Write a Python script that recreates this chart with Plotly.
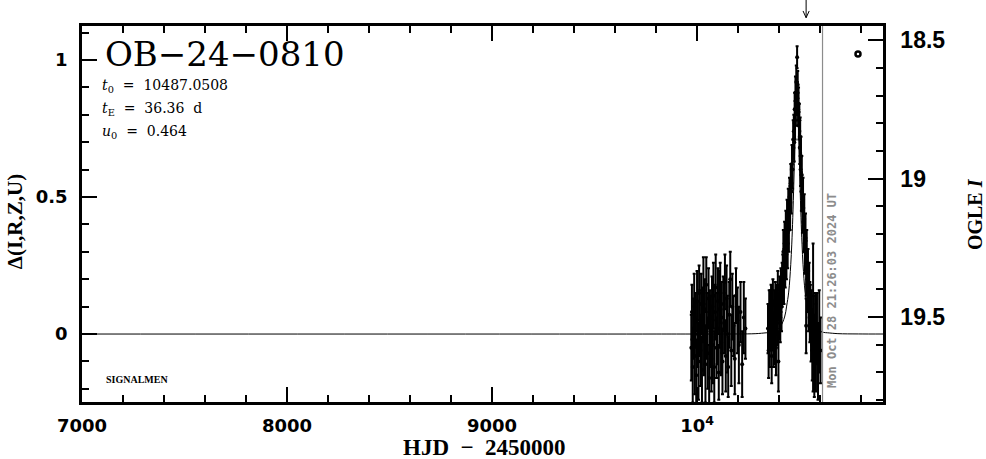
import plotly.graph_objects as go

# ---------------- data (HJD - 2450000, Delta) ----------------
t_2023 = [9972, 9975, 9979, 9982, 9986, 9989, 9993, 9996, 10000, 10003,
          10007, 10010, 10013, 10017, 10020, 10024, 10027, 10031, 10034, 10038,
          10041, 10045, 10048, 10052, 10056, 10059, 10063, 10066, 10070, 10073,
          10077, 10080, 10084, 10088, 10091, 10095, 10098, 10102, 10106, 10109,
          10113, 10117, 10120, 10124, 10128, 10132, 10136, 10140, 10144, 10148,
          10152, 10157, 10162, 10167, 10172, 10178, 10184, 10190, 10197, 10204,
          10212, 10220, 10228, 10236]
d_2023 = [-0.05, 0.08, -0.12, 0.02, 0.10, -0.08, 0.05, -0.15, 0.12, 0.00,
          -0.10, 0.15, 0.04, -0.06, 0.11, -0.13, 0.07, 0.16, -0.02, 0.09,
          -0.11, 0.18, 0.03, -0.07, 0.13, -0.16, 0.06, 0.01, -0.09, 0.10,
          -0.04, 0.14, -0.12, 0.08, 0.17, -0.05, 0.02, 0.12, -0.14, 0.09,
          0.15, -0.03, 0.06, -0.10, 0.11, 0.04, 0.19, -0.08, 0.13, 0.00,
          -0.12, 0.07, 0.20, -0.06, 0.10, 0.03, -0.09, 0.14, 0.05, -0.04,
          0.08, -0.11, 0.06, 0.02]
e_2023 = [0.12, 0.10, 0.13, 0.11, 0.12, 0.14, 0.10, 0.13, 0.11, 0.12,
          0.14, 0.10, 0.12, 0.13, 0.11, 0.12, 0.10, 0.12, 0.13, 0.11,
          0.14, 0.10, 0.12, 0.13, 0.11, 0.12, 0.10, 0.13, 0.12, 0.11,
          0.14, 0.12, 0.13, 0.10, 0.12, 0.11, 0.13, 0.12, 0.10, 0.14,
          0.11, 0.12, 0.13, 0.12, 0.10, 0.11, 0.10, 0.13, 0.12, 0.14,
          0.11, 0.12, 0.10, 0.13, 0.12, 0.11, 0.13, 0.10, 0.12, 0.14,
          0.11, 0.12, 0.13, 0.11]

t_2024_base = [10346, 10349, 10352, 10355, 10358, 10361, 10364, 10367, 10370, 10373,
               10376, 10379, 10382, 10385, 10388, 10391, 10394, 10397, 10400, 10403,
               10406, 10409, 10412, 10415]
d_2024_base = [0.02, -0.06, 0.08, -0.03, 0.05, 0.10, -0.08, 0.03, 0.12, -0.02,
               0.07, 0.00, 0.11, -0.05, 0.09, 0.04, 0.14, -0.10, 0.08, 0.13,
               0.06, 0.16, 0.10, 0.18]
e_2024_base = [0.09, 0.10, 0.08, 0.09, 0.11, 0.08, 0.10, 0.09, 0.08, 0.10,
               0.09, 0.11, 0.08, 0.10, 0.09, 0.08, 0.09, 0.11, 0.10, 0.08,
               0.09, 0.08, 0.09, 0.08]

t_2024_rise = [10418, 10421, 10424, 10427, 10430, 10433, 10436, 10439, 10442, 10445,
               10448, 10451, 10454, 10457, 10460, 10463, 10466, 10469, 10472, 10474,
               10476, 10478, 10480, 10482, 10484, 10486]
d_2024_rise = [0.20, 0.30, 0.21, 0.33, 0.26, 0.37, 0.29, 0.41, 0.33, 0.45,
               0.38, 0.50, 0.46, 0.55, 0.52, 0.62, 0.60, 0.71, 0.74, 0.70,
               0.82, 0.78, 0.88, 0.82, 0.92, 0.86]
e_2024_rise = [0.09, 0.08, 0.10, 0.08, 0.09, 0.08, 0.09, 0.08, 0.09, 0.08,
               0.08, 0.07, 0.08, 0.07, 0.08, 0.07, 0.07, 0.07, 0.06, 0.07,
               0.06, 0.07, 0.06, 0.06, 0.06, 0.06]

t_2024_peak = [10488]
d_2024_peak = [1.01]
e_2024_peak = [0.04]

t_2024_fall = [10489, 10491, 10493, 10495, 10497, 10499, 10501, 10503, 10505, 10507,
               10509, 10511, 10514, 10517, 10520, 10523, 10526, 10529, 10532, 10535,
               10538, 10541, 10544, 10547, 10550]
d_2024_fall = [0.86, 0.91, 0.82, 0.84, 0.76, 0.78, 0.68, 0.72, 0.60, 0.65,
               0.52, 0.58, 0.45, 0.49, 0.38, 0.42, 0.30, 0.35, 0.24, 0.29,
               0.18, 0.22, 0.12, 0.16, 0.08]
e_2024_fall = [0.06, 0.05, 0.06, 0.06, 0.05, 0.06, 0.06, 0.07, 0.06, 0.07,
               0.07, 0.07, 0.08, 0.08, 0.08, 0.09, 0.08, 0.09, 0.10, 0.09,
               0.10, 0.09, 0.11, 0.10, 0.11]

t_2024_tail = [10532, 10553, 10556, 10559, 10562, 10566, 10569, 10572, 10576, 10580,
               10585, 10590, 10596, 10602]
d_2024_tail = [0.03, 0.08, 0.02, 0.05, -0.04, 0.06, 0.00, -0.08, 0.03, -0.05,
               0.02, -0.10, 0.01, -0.06]
e_2024_tail = [0.10, 0.10, 0.12, 0.11, 0.13, 0.27, 0.14, 0.15, 0.12, 0.16,
               0.13, 0.14, 0.15, 0.12]

# model curve
model_t = [7000, 9800, 10100, 10200, 10287, 10337, 10357, 10387, 10407, 10427,
           10437, 10447, 10457, 10462, 10467, 10472, 10477, 10482, 10487, 10492,
           10497, 10502, 10507, 10512, 10517, 10527, 10537, 10547, 10567, 10587,
           10617, 10637, 10687, 10787, 10907]
model_d = [0, 0, 0.0001, 0.0003, 0.0014, 0.0045, 0.006, 0.014, 0.028, 0.062,
           0.102, 0.153, 0.253, 0.328, 0.426, 0.551, 0.693, 0.821, 0.875, 0.821,
           0.693, 0.551, 0.426, 0.328, 0.253, 0.153, 0.102, 0.062, 0.028, 0.014,
           0.006, 0.0045, 0.0014, 0.0003, 0.0001]

x_tickvals = [7000, 8000, 9000, 10000]
x_ticktext = ["7000", "8000", "9000", "10<sup>4</sup>"]
y_tickvals = [0, 0.5, 1]
y_ticktext = ["0", "0.5", "1"]
mag_tickvals = [18.5, 19, 19.5]
mag_ticktext = ["18.5", "19", "19.5"]

now_hjd = 10612
arrow_hjd = 10532
x_range = [7000, 10907]
y_range = [-0.248, 1.124]
mag_range = [19.807, 18.449]

NB = "\u00a0"
event_name = "OB\u221224\u22120810"
par_lines = [f"<i>t</i><sub>0</sub>{NB}{NB}={NB}{NB}10487.0508",
             f"<i>t</i><sub>E</sub>{NB}{NB}={NB}{NB}36.36{NB}{NB}d",
             f"<i>u</i><sub>0</sub>{NB}{NB}={NB}{NB}0.464"]
date_text = "Mon Oct 28 21:26:03 2024 UT"

# ---------------- figure ----------------
t_all = t_2023 + t_2024_base + t_2024_rise + t_2024_peak + t_2024_fall + t_2024_tail
d_all = d_2023 + d_2024_base + d_2024_rise + d_2024_peak + d_2024_fall + d_2024_tail
e_all = e_2023 + e_2024_base + e_2024_rise + e_2024_peak + e_2024_fall + e_2024_tail

fig = go.Figure()
fig.add_trace(go.Scatter(
    x=model_t, y=model_d, mode="lines", line=dict(color="black", width=1, shape="spline"),
    showlegend=False))
fig.add_trace(go.Scatter(
    x=t_all, y=d_all, mode="markers",
    marker=dict(color="black", size=4),
    error_y=dict(type="data", array=e_all, color="black", thickness=2, width=1.5),
    showlegend=False))
# invisible trace for the magnitude axis
fig.add_trace(go.Scatter(x=[x_range[0]], y=[19.0], yaxis="y2", mode="markers",
                         marker=dict(opacity=0), showlegend=False, hoverinfo="skip"))
# small circle symbol upper right
fig.add_trace(go.Scatter(x=[10785], y=[18.55], yaxis="y2", mode="markers",
                         marker=dict(symbol="circle-open", size=5, color="black",
                                     line=dict(width=2.5, color="black")),
                         showlegend=False))

tickfont = dict(family="DejaVu Sans", size=18, color="black", weight="bold")
fig.update_layout(
    width=986, height=459,
    margin=dict(l=82, r=103, t=26, b=57, autoexpand=False),
    paper_bgcolor="white", plot_bgcolor="white",
    xaxis=dict(range=x_range, showgrid=False, zeroline=False, automargin=False,
               showline=True, linecolor="black", linewidth=2.5, mirror="ticks",
               ticks="inside", ticklen=15, tickwidth=2, tickcolor="black",
               tickmode="array", tickvals=x_tickvals, ticktext=x_ticktext,
               tickfont=tickfont, ticklabelstandoff=6,
               minor=dict(tickmode="linear", tick0=7000, dtick=200, ticks="inside",
                          ticklen=7, tickwidth=2, tickcolor="black")),
    yaxis=dict(range=y_range, showgrid=False, zeroline=False, automargin=False,
               showline=True, linecolor="black", linewidth=2.5, mirror=False,
               ticks="inside", ticklen=15, tickwidth=2, tickcolor="black",
               tickmode="array", tickvals=y_tickvals, ticktext=y_ticktext,
               tickfont=tickfont, ticklabelstandoff=8,
               minor=dict(tickmode="linear", tick0=0, dtick=0.1, ticks="inside",
                          ticklen=7, tickwidth=2, tickcolor="black")),
    yaxis2=dict(range=mag_range, overlaying="y", side="right", showgrid=False,
                automargin=False,
                zeroline=False, showline=True, linecolor="black", linewidth=2.5,
                ticks="inside", ticklen=15, tickwidth=2, tickcolor="black",
                tickmode="array", tickvals=mag_tickvals, ticktext=mag_ticktext,
                tickfont=dict(family="Liberation Sans", size=23, color="black", weight="bold"),
                ticklabelstandoff=10,
                minor=dict(tickmode="linear", tick0=18.5, dtick=0.1, ticks="inside",
                           ticklen=7, tickwidth=2, tickcolor="black")),
)

# vertical "now" line
fig.add_shape(type="line", xref="x", yref="paper", x0=now_hjd, x1=now_hjd, y0=0, y1=1,
              line=dict(color="#8c8c8c", width=1.2))
# arrow at top
fig.add_shape(type="line", xref="x", yref="paper", x0=arrow_hjd, x1=arrow_hjd,
              y0=1.022, y1=1.075, line=dict(color="black", width=1))
fig.add_shape(type="path", xref="x", yref="paper",
              path=f"M {arrow_hjd-15},1.040 L {arrow_hjd},1.022 L {arrow_hjd+15},1.040",
              line=dict(color="black", width=1))

ann = []
ann.append(dict(text=event_name, xref="paper", yref="paper", x=0.026, y=0.925,
                xanchor="left", yanchor="middle", showarrow=False,
                font=dict(family="DejaVu Serif", size=34, color="black")))
for i, line in enumerate(par_lines):
    ann.append(dict(text=line, xref="paper", yref="paper", x=0.022, y=0.840 - i * 0.061,
                    xanchor="left", yanchor="middle", showarrow=False,
                    font=dict(family="DejaVu Serif", size=14, color="black")))
ann.append(dict(text="SIGNALMEN", xref="paper", yref="paper", x=0.027, y=0.059,
                xanchor="left", yanchor="middle", showarrow=False,
                font=dict(family="Liberation Serif", size=10, color="black", weight="bold")))
ann.append(dict(text=date_text, xref="x", yref="paper", x=now_hjd, y=0.032,
                xanchor="left", yanchor="bottom", xshift=1, textangle=-90, showarrow=False,
                font=dict(family="DejaVu Sans Mono", size=12, color="#8c8c8c", weight="bold")))
ann.append(dict(text=f"HJD{NB}{NB}\u2212{NB}{NB}2450000", xref="paper", yref="paper",
                x=0.502, y=-0.122, xanchor="center", yanchor="middle", showarrow=False,
                font=dict(family="Liberation Serif", size=23, color="black", weight="bold")))
ann.append(dict(text="\u0394(I,R,Z,U)", xref="paper", yref="paper", x=-0.084, y=0.48,
                xanchor="center", yanchor="middle", textangle=-90, showarrow=False,
                font=dict(family="Liberation Serif", size=21, color="black", weight="bold")))
ann.append(dict(text="OGLE <i>I</i>", xref="paper", yref="paper", x=1.115, y=0.5,
                xanchor="center", yanchor="middle", textangle=-90, showarrow=False,
                font=dict(family="Liberation Serif", size=20, color="black", weight="bold")))
fig.update_layout(annotations=ann)

fig.write_html("out.html", config={"displayModeBar": False},
               post_script="document.body.style.margin='0px';document.body.style.padding='0px';")
